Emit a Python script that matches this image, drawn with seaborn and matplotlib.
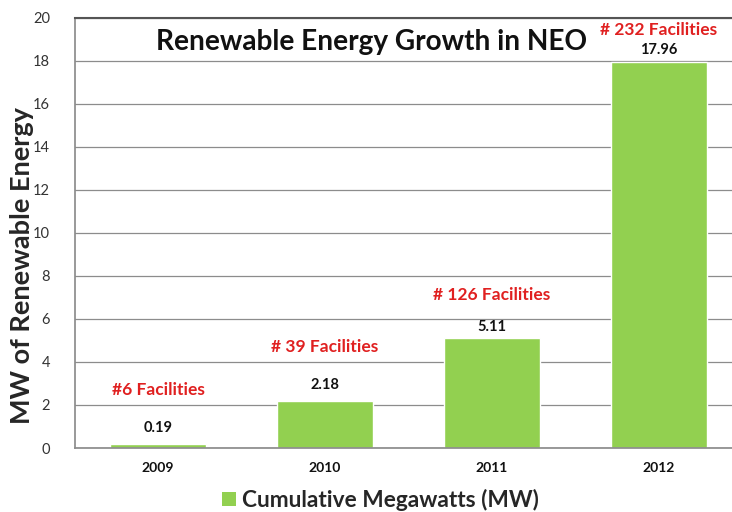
import matplotlib
matplotlib.use("Agg")
import matplotlib.pyplot as plt
import seaborn as sns
import pandas as pd
from matplotlib.patches import Patch

years = ["2009", "2010", "2011", "2012"]
megawatts = [0.19, 2.18, 5.11, 17.96]
value_labels = ["0.19", "2.18", "5.11", "17.96"]
facility_labels = ["#6 Facilities", "# 39 Facilities", "# 126 Facilities", "# 232 Facilities"]
title = "Renewable Energy Growth in NEO"
ylabel = "MW of Renewable Energy"
legend_label = "Cumulative Megawatts (MW)"

sns.set_theme(style="white")
plt.rcParams["font.family"] = ["Lato", "DejaVu Sans"]

df = pd.DataFrame({"year": years, "mw": megawatts})
green = "#92D050"

fig = plt.figure(figsize=(7.32, 5.12), dpi=100)
ax = fig.add_axes([0.1025, 0.125, 0.8975, 0.84])
sns.barplot(data=df, x="year", y="mw", color=green, width=0.575, ax=ax, saturation=1)

ax.set_ylim(0, 20)
ax.set_yticks(range(0, 21, 2))
ax.set_xlim(-0.497, 3.437)
ax.yaxis.grid(True, color="#8c8c8c", linewidth=0.9)
ax.set_axisbelow(True)
ax.spines["right"].set_visible(False)
ax.spines["top"].set_color("#555555")
ax.spines["top"].set_linewidth(1.5)
ax.spines["left"].set_color("#8c8c8c")
ax.spines["bottom"].set_color("#8c8c8c")
ax.tick_params(axis="y", length=0, labelsize=10.5, labelcolor="#333333", pad=18)
ax.tick_params(axis="x", length=0, labelsize=10, labelcolor="#111111", pad=10)
for lab in ax.get_xticklabels():
    lab.set_fontweight("bold")
ax.set_xlabel("")
ax.set_ylabel(ylabel, fontsize=19.5, fontweight="bold")
ax.yaxis.set_label_coords(-0.063, 0.425)

# label offsets above bar tops (layout only)
value_offsets = [0.75, 0.75, 0.52, 0.54]
facility_offsets = [2.52, 2.52, 2.0, 1.48]
for i, (v, lbl, fac) in enumerate(zip(megawatts, value_labels, facility_labels)):
    ax.text(i, v + value_offsets[i], lbl, ha="center", va="center", fontsize=10.5,
            fontweight="bold", color="#111111")
    ax.text(i, v + facility_offsets[i], fac, ha="center", va="center", fontsize=12.5,
            fontweight="bold", color="#e02020")

ax.text(1.281, 18.9, title, ha="center", va="center", fontsize=20.2, fontweight="bold", color="#111111",
        bbox=dict(facecolor="white", edgecolor="none", pad=2))

handles = [Patch(facecolor=green, edgecolor="none", label=legend_label)]
fig.legend(handles=handles, loc="center", bbox_to_anchor=(0.52, 0.024), frameon=False,
           prop={"size": 16.3, "weight": "bold"}, handlelength=0.6, handleheight=0.6, handletextpad=0.3)

fig.savefig("out.png", dpi=100)
